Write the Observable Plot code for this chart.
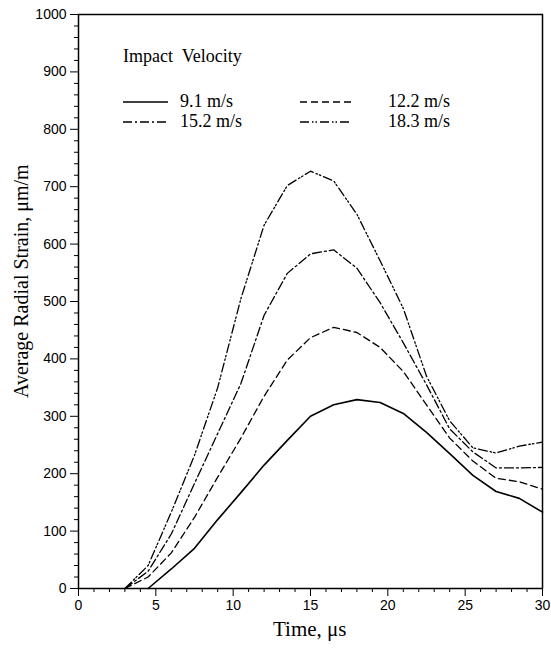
<!DOCTYPE html>
<html><head><meta charset="utf-8">
<script src="https://cdn.jsdelivr.net/npm/d3@7"></script>
<script src="https://cdn.jsdelivr.net/npm/@observablehq/plot@0.6"></script>
<style>
body{margin:0;background:#fff;}
#wrap{position:relative;width:551px;height:648px;overflow:hidden;}
.serif{font-family:"Liberation Serif","Times New Roman",serif;color:#000;position:absolute;white-space:nowrap;line-height:1;}
</style></head><body><div id="wrap"></div>
<script>
// ---- data ----
const times = [3,4.5,6,7.5,9,10.5,12,13.5,15,16.5,18,19.5,21,22.5,24,25.5,27,28.5,30];
const v91  = [null,0,34,70,120,167,215,258,300,320,329,324,305,272,235,197,169,157,133];
const v122 = [0,20,62,124,194,262,335,398,437,455,446,420,378,320,262,222,192,186,173];
const v152 = [0,30,95,183,270,357,476,549,583,590,558,498,428,355,278,238,210,210,211];
const v183 = [0,40,133,232,350,505,633,702,727,710,652,571,488,370,292,245,236,248,255];
const seriesNames = ["9.1 m/s","12.2 m/s","15.2 m/s","18.3 m/s"];
const xTicks = [0,5,10,15,20,25,30];
const yTicks = [0,100,200,300,400,500,600,700,800,900,1000];
const xMinor = [1,2,3,4,6,7,8,9,11,12,13,14,16,17,18,19,21,22,23,24,26,27,28,29];
const yMinor = d3.range(20,1000,20).filter(v => v % 100 !== 0);
const legendTitle = "Impact  Velocity";
const xTitle = "Time, μs";
const yTitle = "Average Radial Strain, μm/m";

// ---- styles ----
const dashes = ["none","7,4","9,3,2,3","9,3,1.5,2,1.5,3"];
const widths = [1.6,1.3,1.3,1.3];

const allVals = [v91,v122,v152,v183];
const rows = [];
allVals.forEach((vals,i) => vals.forEach((v,j) => { if (v !== null) rows.push({s: seriesNames[i], t: times[j], v}); }));

const chart = Plot.plot({
  width: 551, height: 648,
  marginLeft: 78, marginRight: 9, marginTop: 14, marginBottom: 60,
  x: {domain: [0,30]},
  y: {domain: [0,1000]},
  style: {fontFamily: "'Liberation Sans', Arial, sans-serif", fontSize: "14px", color: "#000", background: "#fff"},
  marks: [
    Plot.axisX({ticks: xTicks, tickSize: 8, tickPadding: 4, tickFormat: d => String(d), label: null, stroke: "#000"}),
    Plot.axisX({ticks: xMinor, tickSize: 4, tickFormat: () => "", label: null, stroke: "#000"}),
    Plot.axisY({ticks: yTicks, tickSize: 8, tickPadding: 4, tickFormat: d => String(d), label: null, stroke: "#000"}),
    Plot.axisY({ticks: yMinor, tickSize: 4, tickFormat: () => "", label: null, stroke: "#000"}),
    ...seriesNames.map((name,i) => Plot.line(rows.filter(d => d.s === name), {
      x: "t", y: "v", stroke: "#000", strokeWidth: widths[i], strokeDasharray: dashes[i], strokeLinejoin: "round"
    })),
    Plot.frame({stroke: "#000", strokeWidth: 1.5})
  ]
});
const wrap = document.getElementById("wrap");
wrap.appendChild(chart);

function addText(txt, left, top, size, extra) {
  const d = document.createElement("div");
  d.className = "serif";
  d.textContent = txt;
  d.style.left = left + "px"; d.style.top = top + "px"; d.style.fontSize = size + "px";
  if (extra) Object.assign(d.style, extra);
  wrap.appendChild(d);
  return d;
}
// titles
const xt = addText(xTitle, 0, 619, 21);
xt.style.left = (310 - xt.offsetWidth / 2) + "px";
addText(yTitle, 11, 398, 20, {transformOrigin: "left top", transform: "rotate(-90deg)"});
// legend
addText(legendTitle, 123, 47, 18, {whiteSpace: "pre"});
const legPos = [[123,102,45,180],[300,102,52,388],[123,122,45,180],[300,122,52,388]];
seriesNames.forEach((name,i) => {
  const [lx, ly, lw, tx] = legPos[i];
  const svg = d3.create("svg").attr("width", lw).attr("height", 6)
    .style("position","absolute").style("left", lx+"px").style("top", (ly-3)+"px");
  svg.append("line").attr("x1",0).attr("x2",lw).attr("y1",3).attr("y2",3)
    .attr("stroke","#000").attr("stroke-width",widths[i]).attr("stroke-dasharray",dashes[i]);
  wrap.appendChild(svg.node());
  addText(name, tx, ly - 10, 18);
});
</script></body></html>
